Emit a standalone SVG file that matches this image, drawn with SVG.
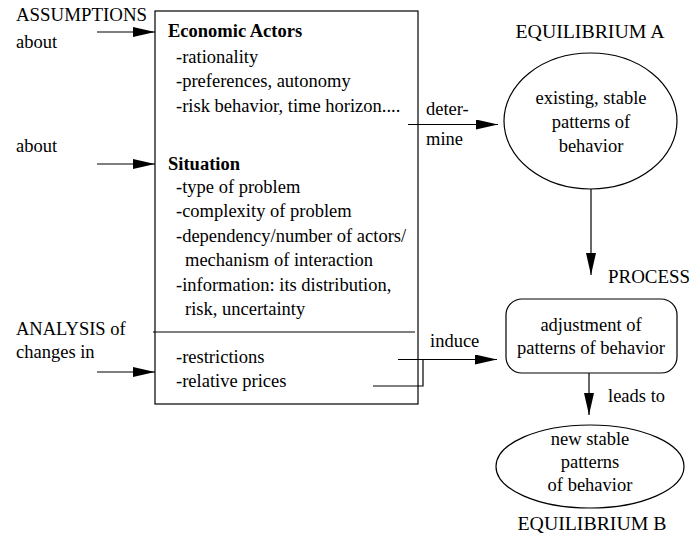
<svg xmlns="http://www.w3.org/2000/svg" width="691" height="537" viewBox="0 0 691 537" font-family="'Liberation Serif', 'DejaVu Serif', serif">
<defs>
<style>
text{font-family:'Liberation Serif','Times New Roman','DejaVu Serif',serif;font-size:18.5px;fill:#000}
.b{font-weight:bold}
.m{text-anchor:middle}
.ln{stroke:#000;stroke-width:1.2;fill:none}
.sh{stroke:#000;stroke-width:1.2;fill:#fff}
</style>
<marker id="ah" viewBox="0 0 22 10" refX="22" refY="5" markerWidth="22" markerHeight="10" markerUnits="userSpaceOnUse" orient="auto">
<path d="M0,0 L22,5 L0,10 Z" fill="#000"/>
</marker>
</defs>
<rect width="691" height="537" fill="#fff"/>
<g id="labels-left">
<text x="16" y="21" textLength="131" lengthAdjust="spacingAndGlyphs">ASSUMPTIONS</text>
<text x="16" y="48">about</text>
<text x="16" y="152">about</text>
<text x="16" y="335">ANALYSIS of</text>
<text x="16" y="358">changes in</text>
</g>
<g id="node-box">
<rect class="sh" x="155" y="11" width="263" height="393"/>
<line class="ln" x1="153" y1="332" x2="415" y2="332"/>
<text class="b" x="168" y="37">Economic Actors</text>
<text x="176" y="63">-rationality</text>
<text x="176" y="87">-preferences, autonomy</text>
<text x="176" y="112">-risk behavior, time horizon....</text>
<text class="b" x="168" y="170">Situation</text>
<text x="176" y="193">-type of problem</text>
<text x="176" y="217">-complexity of problem</text>
<text x="176" y="242">-dependency/number of actors/</text>
<text x="185" y="266">mechanism of interaction</text>
<text x="176" y="291">-information: its distribution,</text>
<text x="185" y="315">risk, uncertainty</text>
<text x="176" y="363">-restrictions</text>
<text x="176" y="387">-relative prices</text>
</g>
<g id="node-eqA">
<text class="m" x="590" y="38" textLength="149" lengthAdjust="spacingAndGlyphs">EQUILIBRIUM  A</text>
<ellipse class="sh" cx="590.5" cy="121" rx="86.5" ry="68"/>
<text class="m" x="591" y="104">existing, stable</text>
<text class="m" x="591" y="128">patterns of</text>
<text class="m" x="591" y="152">behavior</text>
</g>
<g id="node-process">
<text x="608" y="283" textLength="82" lengthAdjust="spacingAndGlyphs">PROCESS</text>
<rect class="sh" x="506" y="299" width="171" height="74" rx="16" ry="16"/>
<text class="m" x="591" y="331">adjustment of</text>
<text class="m" x="591" y="354">patterns of behavior</text>
</g>
<g id="node-eqB">
<ellipse class="sh" cx="590" cy="466.5" rx="94" ry="41.5"/>
<text class="m" x="590" y="445">new stable</text>
<text class="m" x="590" y="468">patterns</text>
<text class="m" x="590" y="491">of behavior</text>
<text class="m" x="592" y="530" textLength="149" lengthAdjust="spacingAndGlyphs">EQUILIBRIUM  B</text>
</g>
<g id="connectors">
<line class="ln" x1="97" y1="32" x2="155" y2="32" marker-end="url(#ah)"/>
<line class="ln" x1="97" y1="164" x2="155" y2="164" marker-end="url(#ah)"/>
<line class="ln" x1="97" y1="372" x2="155" y2="372" marker-end="url(#ah)"/>
<line class="ln" x1="408" y1="124.5" x2="498" y2="124.5" marker-end="url(#ah)"/>
<text x="426" y="115">deter-</text>
<text x="426" y="145">mine</text>
<line class="ln" x1="591" y1="189" x2="591" y2="275" marker-end="url(#ah)"/>
<line class="ln" x1="398" y1="359.5" x2="497" y2="359.5" marker-end="url(#ah)"/>
<polyline class="ln" points="373,386 423,386 423,359.5"/>
<text x="430" y="347">induce</text>
<line class="ln" x1="589" y1="373" x2="589" y2="415" marker-end="url(#ah)"/>
<text x="608" y="402">leads to</text>
</g>
</svg>
